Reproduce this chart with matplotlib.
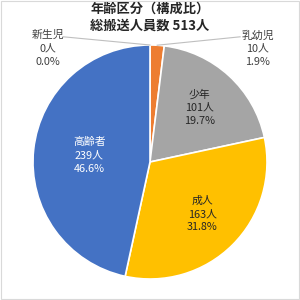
import numpy as np
import matplotlib
matplotlib.use("Agg")
import matplotlib.pyplot as plt

plt.rcParams['font.family'] = ['Noto Sans CJK JP', 'DejaVu Sans']

categories = ["新生児", "乳幼児", "少年", "成人", "高齢者"]
counts = [0, 10, 101, 163, 239]
percents = ["0.0%", "1.9%", "19.7%", "31.8%", "46.6%"]
colors = ["#5B9BD5", "#ED7D31", "#A5A5A5", "#FFC000", "#4472C4"]
total = 513

fig = plt.figure(figsize=(3, 3), dpi=100)
ax = fig.add_axes([0.11, 0.07, 0.78, 0.78])

wedges, _ = ax.pie(counts, colors=colors, startangle=90, counterclock=False,
                   wedgeprops=dict(edgecolor="white", linewidth=1.2))
ax.set_xlim(-1, 1)
ax.set_ylim(-1, 1)
ax.set_aspect("equal")
ax.axis("off")

# labels inside the big slices
for i, w in enumerate(wedges):
    label = f"{categories[i]}\n{counts[i]}人\n{percents[i]}"
    mid = np.deg2rad((w.theta1 + w.theta2) / 2)
    if counts[i] >= 50:
        r = 0.52 if i == 4 else 0.63
        tc = "white" if i == 4 else "#262626"
        ax.text(r * np.cos(mid), r * np.sin(mid), label, ha="center", va="center",
                fontsize=7.8, color=tc, linespacing=1.4)

# small slices get leader lines
outside = {0: (-0.87, 0.97, -0.74), 1: (0.92, 0.97, 0.77)}
for i, (tx, ty, lx) in outside.items():
    w = wedges[i]
    mid = np.deg2rad((w.theta1 + w.theta2) / 2)
    label = f"{categories[i]}\n{counts[i]}人\n{percents[i]}"
    ax.text(tx, ty, label, ha="center", va="center", fontsize=7.8,
            color="#404040", linespacing=1.4)
    ax.plot([np.cos(mid), lx], [np.sin(mid), 1.07], color="#BFBFBF", lw=0.8,
            clip_on=False)

fig.text(0.5, 0.972, "年齢区分（構成比）", ha="center", va="center",
         fontsize=9.5, fontweight="bold", color="#262626")
fig.text(0.5, 0.915, f"総搬送人員数 {total}人", ha="center", va="center",
         fontsize=9.5, fontweight="bold", color="#262626")

fig.patches.append(plt.Rectangle((0.002, 0.002), 0.996, 0.996, transform=fig.transFigure,
                                 fill=False, edgecolor="#D9D9D9", lw=0.8))

fig.savefig("out.png", dpi=100)
